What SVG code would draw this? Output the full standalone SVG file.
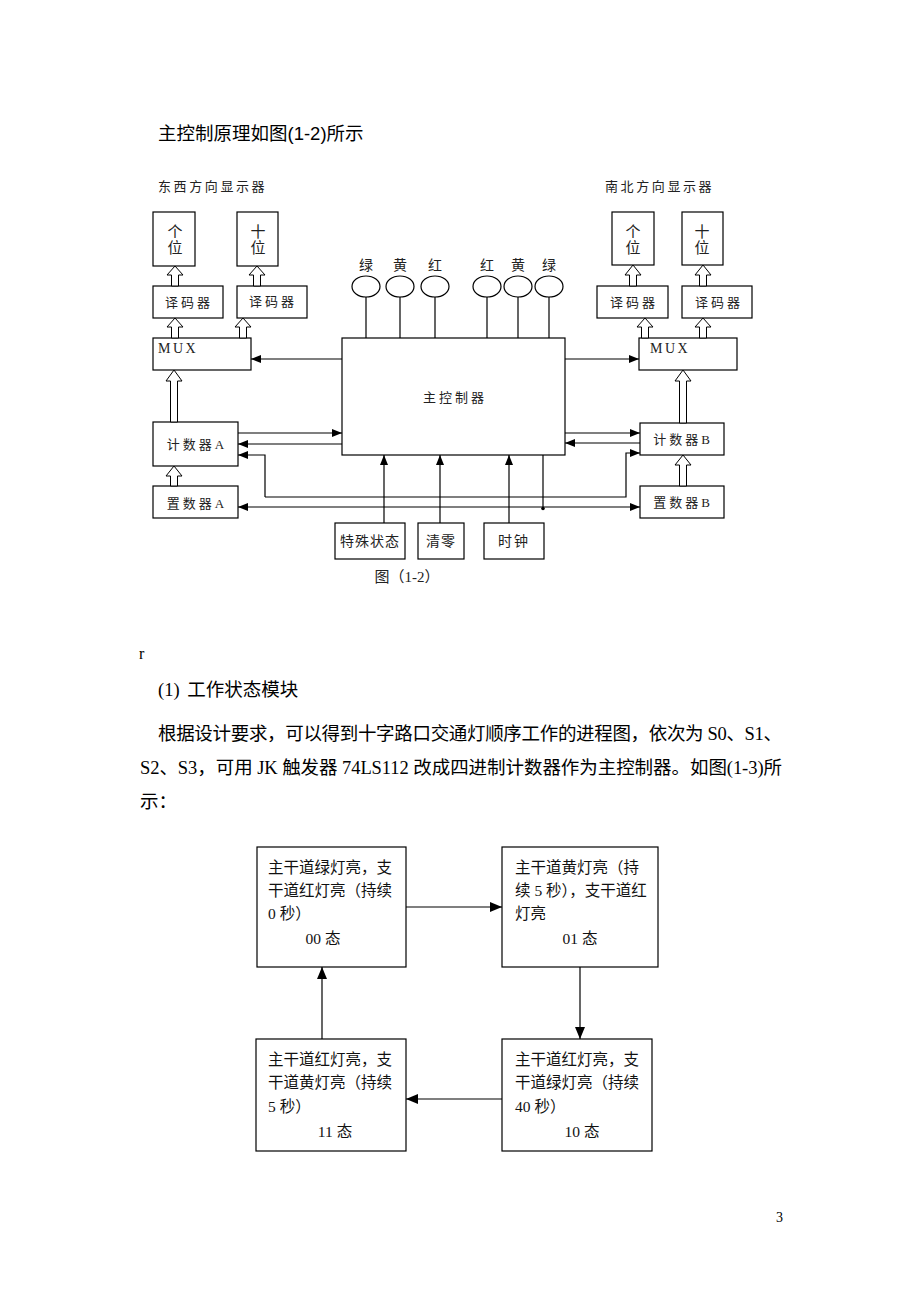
<svg xmlns="http://www.w3.org/2000/svg" width="920" height="1302" viewBox="0 0 920 1302">
<style>
.b{fill:#fff;stroke:#000;stroke-width:1.2}
.h{fill:#fff;stroke:#000;stroke-width:1}
.l{fill:none;stroke:#000;stroke-width:1.2}
.t{font-family:"Liberation Serif","Noto Sans CJK SC",serif;font-size:13px;letter-spacing:3px;fill:#222}
.tc{font-family:"Liberation Serif","Noto Sans CJK SC",serif;font-size:13px;letter-spacing:3px;fill:#222;text-anchor:middle}
.f{font-family:"Liberation Serif","Noto Sans CJK SC",serif;font-size:15.5px;fill:#111}
.p{font-family:"Liberation Serif","Noto Sans CJK SC",serif;font-size:18.5px;fill:#000}
.s{font-family:"Liberation Sans","Noto Sans CJK SC",sans-serif;font-size:18.5px;fill:#000}
</style>
<defs>
<marker id="a" markerUnits="userSpaceOnUse" markerWidth="10" markerHeight="8" refX="10" refY="4" orient="auto"><path d="M0,0 L10,4 L0,8 z" fill="#000"/></marker>
<marker id="a2" markerUnits="userSpaceOnUse" markerWidth="12" markerHeight="10" refX="12" refY="5" orient="auto"><path d="M0,0 L12,5 L0,10 z" fill="#000"/></marker>
</defs>
<rect width="920" height="1302" fill="#fff"/>

<text class="s" x="158" y="140">主控制原理如图(1-2)所示</text>

<g id="labels">
<text class="t" x="158" y="191" style="letter-spacing:2.6px">东西方向显示器</text>
<text class="t" x="605" y="191" style="letter-spacing:2.6px">南北方向显示器</text>
<text class="tc" x="407" y="582" style="font-size:15px;letter-spacing:0">图（1-2）</text>
</g>

<g id="ew-unit"><rect class="b" x="153" y="212" width="42" height="54"/><text class="tc" x="175" y="237" style="font-size:15px;letter-spacing:0">个</text><text class="tc" x="175" y="253" style="font-size:15px;letter-spacing:0">位</text></g>
<g id="ew-ten"><rect class="b" x="237" y="212" width="41" height="54"/><text class="tc" x="258" y="237" style="font-size:15px;letter-spacing:0">十</text><text class="tc" x="258" y="253" style="font-size:15px;letter-spacing:0">位</text></g>
<g id="ew-dec1"><rect class="b" x="153" y="286" width="70" height="32"/><text class="tc" x="189" y="307">译码器</text></g>
<g id="ew-dec2"><rect class="b" x="237" y="286" width="70" height="32"/><text class="tc" x="273" y="306">译码器</text></g>
<g id="ew-mux"><rect class="b" x="153" y="338" width="98" height="32"/><text class="t" x="158" y="353" style="font-size:14px;letter-spacing:2.5px">MUX</text></g>
<g id="ew-cnt"><rect class="b" x="153" y="422" width="85" height="44"/><text class="tc" x="197" y="449">计数器A</text></g>
<g id="ew-set"><rect class="b" x="153" y="486" width="85" height="32"/><text class="tc" x="197" y="508">置数器A</text></g>

<g id="main"><rect class="b" x="342" y="338" width="223" height="117"/><text class="tc" x="455" y="402">主控制器</text></g>

<g id="ns-unit"><rect class="b" x="612" y="212" width="42" height="53"/><text class="tc" x="633" y="237" style="font-size:15px;letter-spacing:0">个</text><text class="tc" x="633" y="253" style="font-size:15px;letter-spacing:0">位</text></g>
<g id="ns-ten"><rect class="b" x="682" y="212" width="41" height="53"/><text class="tc" x="702" y="237" style="font-size:15px;letter-spacing:0">十</text><text class="tc" x="702" y="253" style="font-size:15px;letter-spacing:0">位</text></g>
<g id="ns-dec1"><rect class="b" x="597" y="286" width="71" height="32"/><text class="tc" x="634" y="307">译码器</text></g>
<g id="ns-dec2"><rect class="b" x="682" y="286" width="70" height="32"/><text class="tc" x="719" y="307">译码器</text></g>
<g id="ns-mux"><rect class="b" x="639" y="338" width="98" height="32"/><text class="t" x="650" y="353" style="font-size:14px;letter-spacing:2.5px">MUX</text></g>
<g id="ns-cnt"><rect class="b" x="640" y="423" width="84" height="32"/><text class="tc" x="683" y="444">计数器B</text></g>
<g id="ns-set"><rect class="b" x="640" y="486" width="84" height="32"/><text class="tc" x="683" y="507">置数器B</text></g>

<g id="special"><rect class="b" x="335" y="523" width="70" height="36"/><text class="tc" x="370" y="546" style="font-size:14px;letter-spacing:1px">特殊状态</text></g>
<g id="clear"><rect class="b" x="418" y="523" width="46" height="36"/><text class="tc" x="441" y="546" style="font-size:14px;letter-spacing:1px">清零</text></g>
<g id="clock"><rect class="b" x="484" y="523" width="60" height="36"/><text class="tc" x="514" y="546" style="font-size:14px;letter-spacing:2px">时钟</text></g>

<g id="lamps">
<g id="lamp-ew-g"><ellipse class="b" cx="366" cy="286.5" rx="14" ry="10.5"/><text class="tc" x="366" y="270" style="font-size:14px;letter-spacing:0">绿</text></g>
<g id="lamp-ew-y"><ellipse class="b" cx="400" cy="286.5" rx="14" ry="10.5"/><text class="tc" x="400" y="270" style="font-size:14px;letter-spacing:0">黄</text></g>
<g id="lamp-ew-r"><ellipse class="b" cx="435" cy="286.5" rx="14" ry="10.5"/><text class="tc" x="435" y="270" style="font-size:14px;letter-spacing:0">红</text></g>
<g id="lamp-ns-r"><ellipse class="b" cx="487" cy="286.5" rx="14" ry="10.5"/><text class="tc" x="487" y="270" style="font-size:14px;letter-spacing:0">红</text></g>
<g id="lamp-ns-y"><ellipse class="b" cx="518" cy="286.5" rx="14" ry="10.5"/><text class="tc" x="518" y="270" style="font-size:14px;letter-spacing:0">黄</text></g>
<g id="lamp-ns-g"><ellipse class="b" cx="549" cy="286.5" rx="14" ry="10.5"/><text class="tc" x="549" y="270" style="font-size:14px;letter-spacing:0">绿</text></g>
</g>

<g id="connectors">
<path class="h" d="M171.5,286 V275 H167 L175,266 L183,275 H178.5 V286 Z"/>
<path class="h" d="M253.5,286 V275 H249 L257,266 L265,275 H260.5 V286 Z"/>
<path class="h" d="M171.5,338 V327 H167 L175,318 L183,327 H178.5 V338 Z"/>
<path class="h" d="M239.5,338 V327 H235 L243,318 L251,327 H246.5 V338 Z"/>
<path class="h" d="M170.5,422 V381 H166 L174,370 L182,381 H177.5 V422 Z"/>
<path class="h" d="M170.5,486 V476 H166 L174,466 L182,476 H177.5 V486 Z"/>
<path class="h" d="M629.5,286 V275 H625 L633,265 L641,275 H636.5 V286 Z"/>
<path class="h" d="M699.5,286 V275 H695 L703,265 L711,275 H706.5 V286 Z"/>
<path class="h" d="M641.5,338 V327 H637 L645,318 L653,327 H648.5 V338 Z"/>
<path class="h" d="M699.5,338 V327 H695 L703,318 L711,327 H706.5 V338 Z"/>
<path class="h" d="M679.5,423 V381 H675 L683,370 L691,381 H686.5 V423 Z"/>
<path class="h" d="M679.5,486 V465 H675 L683,455 L691,465 H686.5 V486 Z"/>
<path class="l" d="M366,297 V338 M400,297 V338 M435,297 V338 M487,297 V338 M518,297 V338 M549,297 V338"/>
<path class="l" d="M342,359 H251" marker-end="url(#a)"/>
<path class="l" d="M565,359 H639" marker-end="url(#a)"/>
<path class="l" d="M238,433 H342" marker-end="url(#a)"/>
<path class="l" d="M342,444 H238" marker-end="url(#a)"/>
<path class="l" d="M565,433 H640" marker-end="url(#a)"/>
<path class="l" d="M640,443 H565" marker-end="url(#a)"/>
<path class="l" d="M265,497 V455 H238" marker-end="url(#a)"/>
<path class="l" d="M265,497 H626 V453 H640" marker-end="url(#a)"/>
<path class="l" d="M543,507 H238" marker-end="url(#a)"/>
<path class="l" d="M543,507 H640" marker-end="url(#a)"/>
<path class="l" d="M543,455 V507"/>
<circle cx="543" cy="508.5" r="1.8" fill="#000"/>
<path class="l" d="M384,523 V455" marker-end="url(#a)"/>
<path class="l" d="M440,523 V455" marker-end="url(#a)"/>
<path class="l" d="M509,523 V455" marker-end="url(#a)"/>
<path class="l" d="M406,907 H502" marker-end="url(#a2)"/>
<path class="l" d="M580,967 V1039" marker-end="url(#a2)"/>
<path class="l" d="M502,1099 H406" marker-end="url(#a2)"/>
<path class="l" d="M322,1039 V967" marker-end="url(#a2)"/>
</g>

<text class="p" x="139" y="659" style="font-size:16px">r</text>
<text x="158" y="696"><tspan class="p">(1)</tspan><tspan class="s" x="182"> 工作状态模块</tspan></text>
<text class="p" x="158" y="740" textLength="624" lengthAdjust="spacing">根据设计要求，可以得到十字路口交通灯顺序工作的进程图，依次为 S0、S1、</text>
<text class="p" x="140" y="774" textLength="642" lengthAdjust="spacing">S2、S3，可用 JK 触发器 74LS112 改成四进制计数器作为主控制器。如图(1-3)所</text>
<text class="p" x="140" y="808">示：</text>

<g id="s00"><rect class="b" x="257" y="847" width="149" height="120"/>
<text class="f" x="268" y="873">主干道绿灯亮，支</text>
<text class="f" x="268" y="896">干道红灯亮（持续</text>
<text class="f" x="268" y="919">0 秒）</text>
<text class="f" x="323" y="944" text-anchor="middle">00 态</text></g>
<g id="s01"><rect class="b" x="502" y="847" width="156" height="120"/>
<text class="f" x="515" y="873">主干道黄灯亮（持</text>
<text class="f" x="515" y="896">续 5 秒），支干道红</text>
<text class="f" x="515" y="919">灯亮</text>
<text class="f" x="580" y="944" text-anchor="middle">01 态</text></g>
<g id="s11"><rect class="b" x="256" y="1039" width="150" height="112"/>
<text class="f" x="268" y="1065">主干道红灯亮，支</text>
<text class="f" x="268" y="1088">干道黄灯亮（持续</text>
<text class="f" x="268" y="1112">5 秒）</text>
<text class="f" x="335" y="1137" text-anchor="middle">11 态</text></g>
<g id="s10"><rect class="b" x="502" y="1039" width="150" height="112"/>
<text class="f" x="515" y="1065">主干道红灯亮，支</text>
<text class="f" x="515" y="1088">干道绿灯亮（持续</text>
<text class="f" x="515" y="1112">40 秒）</text>
<text class="f" x="582" y="1137" text-anchor="middle">10 态</text></g>

<text class="p" x="776" y="1222" style="font-size:14px">3</text>
</svg>
